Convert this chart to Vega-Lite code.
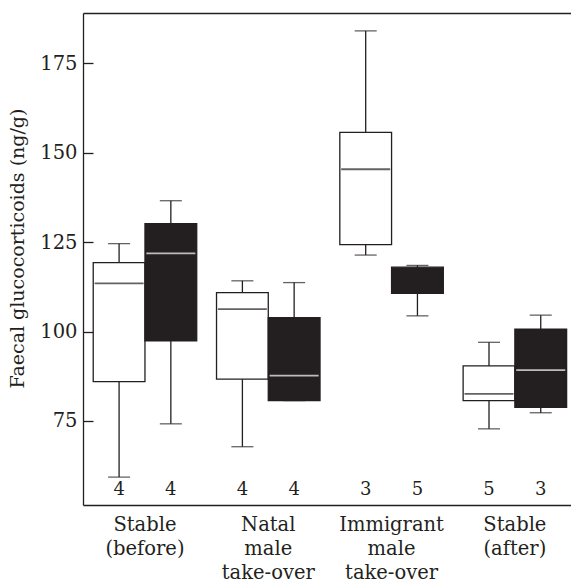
{
  "$schema": "https://vega.github.io/schema/vega-lite/v6.json",
  "width": 488,
  "height": 492,
  "autosize": {"type": "none"},
  "padding": {"left": 83, "top": 13, "right": 0, "bottom": 79},
  "background": "white",
  "config": {
    "view": {"stroke": null},
    "font": "DejaVu Serif",
    "axis": {
      "domainColor": "#231f20", "domainWidth": 1.3,
      "tickColor": "#231f20", "tickWidth": 1.3,
      "labelColor": "#231f20", "titleColor": "#231f20",
      "labelFont": "DejaVu Serif", "titleFont": "DejaVu Serif",
      "labelFontSize": 19.5, "titleFontSize": 19, "titleFontWeight": "normal",
      "grid": false
    }
  },
  "data": {"values": [
    {"group": "Stable (before)", "series": "white", "min": 59.3, "q1": 86.0, "median": 113.5, "q3": 119.3, "max": 124.6, "n": 4},
    {"group": "Stable (before)", "series": "black", "min": 74.2, "q1": 97.4, "median": 121.9, "q3": 130.2, "max": 136.6, "n": 4},
    {"group": "Natal male take-over", "series": "white", "min": 67.8, "q1": 86.7, "median": 106.3, "q3": 110.9, "max": 114.2, "n": 4},
    {"group": "Natal male take-over", "series": "black", "min": 80.7, "q1": 80.7, "median": 87.7, "q3": 103.9, "max": 113.7, "n": 4},
    {"group": "Immigrant male take-over", "series": "white", "min": 121.4, "q1": 124.3, "median": 145.4, "q3": 155.7, "max": 184.1, "n": 3},
    {"group": "Immigrant male take-over", "series": "black", "min": 104.4, "q1": 110.7, "median": null, "q3": 118.0, "max": 118.5, "n": 5},
    {"group": "Stable (after)", "series": "white", "min": 72.8, "q1": 80.7, "median": 82.6, "q3": 90.4, "max": 97.0, "n": 5},
    {"group": "Stable (after)", "series": "black", "min": 77.3, "q1": 78.8, "median": 89.2, "q3": 100.7, "max": 104.6, "n": 3}
  ]},
  "layer": [
    {
      "mark": {"type": "rule", "color": "#231f20", "strokeWidth": 1.3},
      "encoding": {
        "x": {"field": "group", "type": "nominal",
              "sort": ["Stable (before)", "Natal male take-over", "Immigrant male take-over", "Stable (after)"],
              "scale": {"paddingInner": 0.1606, "paddingOuter": 0.0592, "align": 0.7},
              "axis": {"orient": "bottom", "title": null, "ticks": false, "labelAngle": 0, "labelPadding": 10,
                       "labelLineHeight": 24, "labelExpr": "split(datum.label, ' ')", "labelBaseline": "top"}},
        "xOffset": {"field": "series", "type": "nominal", "sort": ["white", "black"], "scale": {"paddingInner": 0, "paddingOuter": 0}},
        "y": {"field": "min", "type": "quantitative", "scale": {"domain": [51.5, 189.1], "nice": false, "zero": false},
              "axis": {"title": "Faecal glucocorticoids (ng/g)", "values": [75, 100, 125, 150, 175], "tickSize": -10, "labelPadding": 16,
                       "titleX": -65.5, "titleY": 235, "titleAngle": -90, "titleAlign": "center", "titleBaseline": "middle"}},
        "y2": {"field": "max"}
      }
    },
    {
      "mark": {"type": "bar", "stroke": "#231f20", "strokeWidth": 1.3},
      "encoding": {
        "x": {"field": "group", "type": "nominal",
              "sort": ["Stable (before)", "Natal male take-over", "Immigrant male take-over", "Stable (after)"],
              "scale": {"paddingInner": 0.1606, "paddingOuter": 0.0592, "align": 0.7},
              "axis": {"orient": "top", "title": null, "ticks": false, "labels": false, "domain": true}},
        "xOffset": {"field": "series", "type": "nominal", "sort": ["white", "black"], "scale": {"paddingInner": 0, "paddingOuter": 0}},
        "y": {"field": "q1", "type": "quantitative", "scale": {"domain": [51.5, 189.1], "nice": false, "zero": false}, "title": "Faecal glucocorticoids (ng/g)"},
        "y2": {"field": "q3"},
        "fill": {"condition": {"test": "datum.series === 'black'", "value": "#231f20"}, "value": "white"}
      }
    },
    {
      "mark": {"type": "tick", "size": 49, "thickness": 1.8},
      "encoding": {
        "x": {"field": "group", "type": "nominal",
              "sort": ["Stable (before)", "Natal male take-over", "Immigrant male take-over", "Stable (after)"],
              "scale": {"paddingInner": 0.1606, "paddingOuter": 0.0592, "align": 0.7}, "axis": null},
        "xOffset": {"field": "series", "type": "nominal", "sort": ["white", "black"], "scale": {"paddingInner": 0, "paddingOuter": 0}},
        "y": {"field": "median", "type": "quantitative", "scale": {"domain": [51.5, 189.1], "nice": false, "zero": false}, "title": "Faecal glucocorticoids (ng/g)"},
        "color": {"condition": {"test": "datum.series === 'black'", "value": "white"}, "value": "#231f20"}
      }
    },
    {
      "mark": {"type": "tick", "size": 22, "thickness": 1.3, "color": "#231f20"},
      "encoding": {
        "x": {"field": "group", "type": "nominal",
              "sort": ["Stable (before)", "Natal male take-over", "Immigrant male take-over", "Stable (after)"],
              "scale": {"paddingInner": 0.1606, "paddingOuter": 0.0592, "align": 0.7}, "axis": null},
        "xOffset": {"field": "series", "type": "nominal", "sort": ["white", "black"], "scale": {"paddingInner": 0, "paddingOuter": 0}},
        "y": {"field": "max", "type": "quantitative", "scale": {"domain": [51.5, 189.1], "nice": false, "zero": false}, "title": "Faecal glucocorticoids (ng/g)"}
      }
    },
    {
      "mark": {"type": "tick", "size": 22, "thickness": 1.3, "color": "#231f20"},
      "encoding": {
        "x": {"field": "group", "type": "nominal",
              "sort": ["Stable (before)", "Natal male take-over", "Immigrant male take-over", "Stable (after)"],
              "scale": {"paddingInner": 0.1606, "paddingOuter": 0.0592, "align": 0.7}, "axis": null},
        "xOffset": {"field": "series", "type": "nominal", "sort": ["white", "black"], "scale": {"paddingInner": 0, "paddingOuter": 0}},
        "y": {"field": "min", "type": "quantitative", "scale": {"domain": [51.5, 189.1], "nice": false, "zero": false}, "title": "Faecal glucocorticoids (ng/g)"}
      }
    },
    {
      "mark": {"type": "text", "fontSize": 18, "baseline": "alphabetic", "color": "#231f20", "font": "DejaVu Serif"},
      "encoding": {
        "x": {"field": "group", "type": "nominal",
              "sort": ["Stable (before)", "Natal male take-over", "Immigrant male take-over", "Stable (after)"],
              "scale": {"paddingInner": 0.1606, "paddingOuter": 0.0592, "align": 0.7}, "axis": null},
        "xOffset": {"field": "series", "type": "nominal", "sort": ["white", "black"], "scale": {"paddingInner": 0, "paddingOuter": 0}},
        "y": {"datum": 54.3, "type": "quantitative", "scale": {"domain": [51.5, 189.1], "nice": false, "zero": false}, "title": "Faecal glucocorticoids (ng/g)"},
        "text": {"field": "n", "type": "quantitative"}
      }
    }
  ],
  "resolve": {"axis": {"x": "independent"}}
}
